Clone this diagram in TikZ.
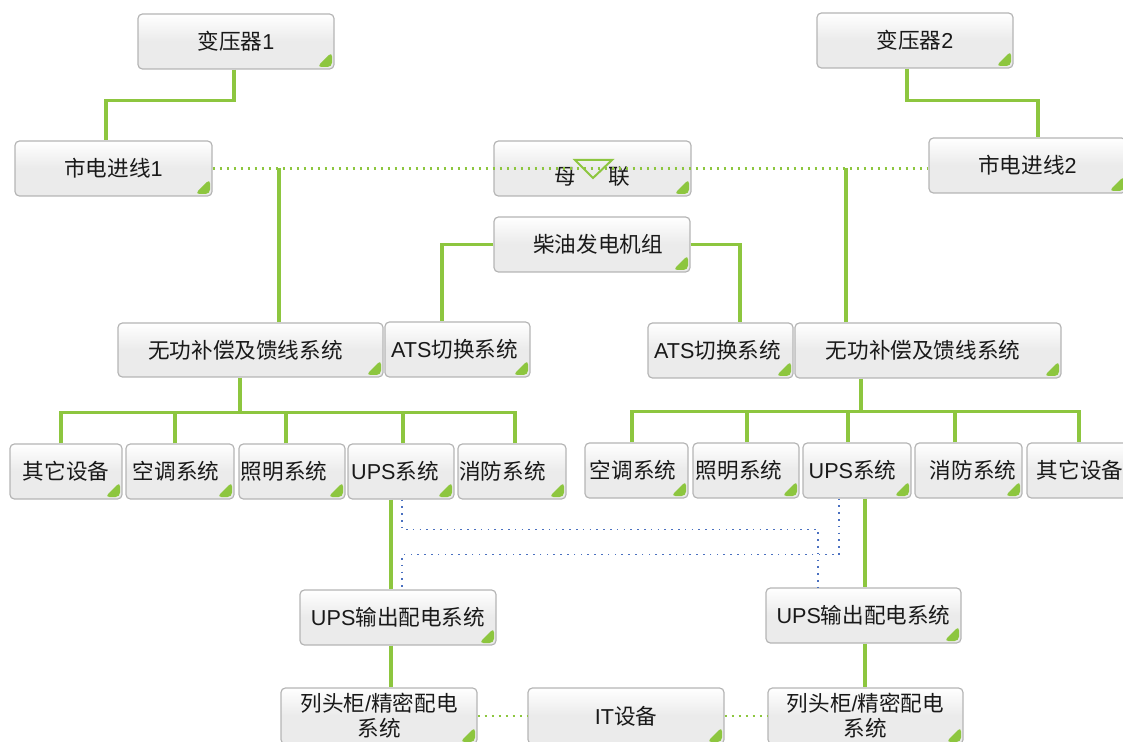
\documentclass[tikz,border=0pt]{standalone}
\usepackage{fontspec}
\setmainfont{Noto Sans CJK SC}
\newfontfamily\lat{Liberation Sans}
\definecolor{lg}{HTML}{8DC63F}
\definecolor{bdc}{HTML}{4A70C0}
\definecolor{boxline}{HTML}{B5B5B5}
\tikzset{
 box/.style={draw=boxline, line width=0.6pt, rounded corners=2.2pt,
  top color=white, bottom color=black!8, middle color=black!8,
  inner sep=0pt, font=\fontsize{10.8}{12.5}\selectfont, text=black!90, align=center,
  path picture={\fill[lg] ([shift={(-1pt,1pt)}]path picture bounding box.south east)
     -- ++(0,7.5pt) -- ++(-7.5pt,-7.5pt) -- cycle;}},
 gl/.style={draw=lg, line width=1.8pt},
 gd/.style={draw=lg, line width=1.1pt, dash pattern=on 1.1pt off 2.4pt},
 bdot/.style={draw=bdc, line width=0.8pt, dash pattern=on 0.8pt off 2.6pt},
 tri/.style={draw=lg, line width=1pt, line join=miter},
}
\newcommand\mkbox[7][]{\node[box,minimum width={(#5-#3)*0.5pt},minimum height={(#6-#4)*0.5pt},#1] (#2) at ({(#3+#5)/2},{(#4+#6)/2}) {#7};}
\begin{document}
\begin{tikzpicture}[x=0.5pt,y=-0.5pt]
\useasboundingbox (0,0) rectangle (1123,742);
\clip (0,0) rectangle (1123,742);
% nodes
\mkbox{t1}{138}{14}{334}{69}{变压器{\lat 1}}
\mkbox{t2}{817}{13}{1013}{68}{变压器{\lat 2}}
\mkbox{m1}{15}{141}{212}{196}{市电进线{\lat 1}}
\mkbox{ml}{494}{141}{691}{196}{\raisebox{-4.25pt}[\height][\depth]{母\hspace{16pt}联}}
\mkbox{m2}{929}{138}{1126}{193}{市电进线{\lat 2}}
\mkbox{dg}{494}{217}{690}{272}{\hspace*{6pt}柴油发电机组}
\mkbox{wl}{118}{323}{383}{377}{无功补偿及馈线系统\hspace*{5pt}}
\mkbox{al}{385}{322}{530}{377}{{\lat ATS}切换系统\hspace*{3pt}}
\mkbox{ar}{648}{323}{793}{378}{{\lat ATS}切换系统\hspace*{3pt}}
\mkbox{wr}{795}{323}{1061}{378}{无功补偿及馈线系统\hspace*{5pt}}
\mkbox{ol}{10}{444}{122}{499}{其它设备}
\mkbox{kl}{126}{444}{234}{499}{空调系统\hspace*{4pt}}
\mkbox{zl}{239}{444}{345}{499}{照明系统\hspace*{8pt}}
\mkbox{ul}{348}{444}{454}{499}{{\lat UPS}系统\hspace*{6pt}}
\mkbox{xl}{458}{444}{566}{499}{消防系统\hspace*{9.5pt}}
\mkbox{kr}{585}{443}{688}{498}{空调系统\hspace*{3.5pt}}
\mkbox{zr}{693}{443}{799}{498}{照明系统\hspace*{7pt}}
\mkbox{ur}{803}{443}{911}{498}{{\lat UPS}系统\hspace*{4.5pt}}
\mkbox{xr}{915}{443}{1022}{498}{\hspace*{4.5pt}消防系统}
\mkbox{or2}{1027}{443}{1139}{498}{其它设备\hspace*{3pt}}
\mkbox{uol}{300}{590}{496}{645}{{\lat UPS}输出配电系统}
\mkbox{uor}{766}{588}{961}{643}{{\lat UPS}输出配电系统}
\mkbox{ll}{281}{688}{477}{744}{列头柜{\lat /}精密配电\\系统}
\mkbox{it}{528}{688}{724}{744}{{\lat IT}设备}
\mkbox{lr}{768}{688}{963}{744}{列头柜{\lat /}精密配电\\系统}
% top connectors
\draw[gl] ([xshift=-1pt]t1.south) -- ++(0,31) -| ([xshift=-3.75pt]m1.north);
\draw[gl] ([xshift=-4pt]t2.south) -- ++(0,32) -| ([xshift=5.25pt]m2.north);
% bus tie dotted
\draw[gd] (m1.east) -- (m2.west |- m1.east);
\draw[tri] ([shift={(-8.75pt,4.25pt)}]ml.center) -- ([shift={(9.75pt,4.25pt)}]ml.center) -- ([shift={(0.25pt,-4.75pt)}]ml.center) -- cycle;
\draw[gl] ([xshift=14.25pt]wl.north) -- ([xshift=14.25pt]wl.north |- m1.east);
\draw[gl] ([xshift=-41pt]wr.north) -- ([xshift=-41pt]wr.north |- m1.east);
% diesel
\draw[gl] (dg.west) -| ([xshift=-7.75pt]al.north);
\draw[gl] (dg.east) -| ([xshift=9.75pt]ar.north);
% left distribution
\draw[gl] ([xshift=-5.25pt]wl.south) -- ++(0,36);
\draw[gl] ([xshift=-2.5pt]ol.north) -- ++(0,-31) -| ([xshift=1.5pt]xl.north);
\draw[gl] ([xshift=-2.5pt]kl.north) -- ++(0,-31);
\draw[gl] ([xshift=-3pt]zl.north) -- ++(0,-31);
\draw[gl] ([xshift=1pt]ul.north) -- ++(0,-31);
% right distribution
\draw[gl] ([xshift=-33.5pt]wr.south) -- ++(0,34);
\draw[gl] ([xshift=-2.25pt]kr.north) -- ++(0,-31) -| ([xshift=-2pt]or2.north);
\draw[gl] ([xshift=0.5pt]zr.north) -- ++(0,-31);
\draw[gl] ([xshift=-4.5pt]ur.north) -- ++(0,-31);
\draw[gl] ([xshift=-6.75pt]xr.north) -- ++(0,-31);
% UPS
\draw[gl] ([xshift=-5pt]ul.south) -- ([xshift=-5pt]ul.south |- uol.north);
\draw[gl] ([xshift=4pt]ur.south) -- ([xshift=4pt]ur.south |- uor.north);
\draw[bdot] ([xshift=0.5pt]ul.south) -- ++(0,30) -| ([xshift=-22.75pt]uor.north);
\draw[bdot] ([xshift=-9pt]ur.south) -- ++(0,56) -| ([xshift=2pt]uol.north);
\draw[gl] ([xshift=-3.5pt]uol.south) -- ([xshift=-3.5pt]uol.south |- ll.north);
\draw[gl] ([xshift=0.75pt]uor.south) -- ([xshift=0.75pt]uor.south |- lr.north);
\draw[gd] (ll.east) -- (it.west);
\draw[gd] (it.east) -- (lr.west);
\end{tikzpicture}
\end{document}
